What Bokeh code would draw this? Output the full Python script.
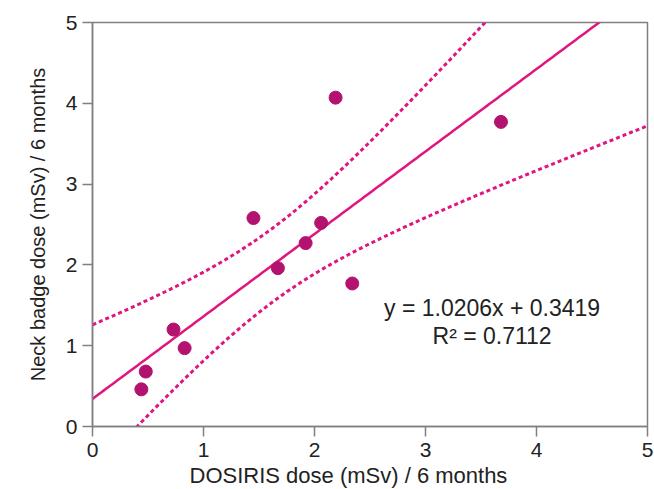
import numpy as np
from bokeh.plotting import figure
from bokeh.models import Range1d, FixedTicker, Title
from bokeh.embed import file_html
from bokeh.resources import INLINE
from bokeh.core.properties import value

# Data
dosiris_x = [0.44, 0.48, 0.73, 0.83, 1.45, 1.67, 1.92, 2.06, 2.19, 2.34, 3.68]
neck_y = [0.46, 0.68, 1.20, 0.97, 2.58, 1.96, 2.27, 2.52, 4.07, 1.77, 3.77]
slope = 1.0206
intercept = 0.3419
r2_text = "R\u00b2 = 0.7112"
eq_text = "y = 1.0206x + 0.3419"
x_title = "DOSIRIS dose (mSv) / 6 months"
y_title = "Neck badge dose (mSv) / 6 months"
ticks = [0, 1, 2, 3, 4, 5]
t_975_df9 = 2.262

FONT = "Liberation Sans"
MAG = "#E0157E"
DOT = "#B3126F"
TXT = "#222222"

x = np.array(dosiris_x)
y = np.array(neck_y)
n = len(x)
resid = y - (slope * x + intercept)
s = np.sqrt(np.sum(resid ** 2) / (n - 2))
sxx = np.sum((x - x.mean()) ** 2)
xs = np.linspace(0, 5, 201)
ys = slope * xs + intercept
ci = t_975_df9 * s * np.sqrt(1.0 / n + (xs - x.mean()) ** 2 / sxx)

p = figure(width=654, height=489, output_backend="svg", toolbar_location=None,
           x_range=Range1d(0, 5), y_range=Range1d(0, 5),
           min_border_left=92, min_border_top=22, min_border_right=7, min_border_bottom=63)
p.grid.visible = False
p.outline_line_color = "#808080"
p.outline_line_width = 1.5
p.background_fill_color = "white"
p.border_fill_color = "white"

p.line(xs, ys + ci, line_color=MAG, line_width=3, line_dash="4 3")
p.line(xs, ys - ci, line_color=MAG, line_width=3, line_dash="4 3")
p.line(xs, ys, line_color=MAG, line_width=2.5)
p.scatter(dosiris_x, neck_y, size=13, fill_color=DOT, line_color=DOT)

p.text(x=[3.6], y=[1.47], text=[eq_text], text_align="center", text_baseline="middle",
       text_font=value(FONT), text_font_size="23px", text_color=TXT)
p.text(x=[3.6], y=[1.12], text=[r2_text], text_align="center", text_baseline="middle",
       text_font=value(FONT), text_font_size="23px", text_color=TXT)

for ax in (p.xaxis[0], p.yaxis[0]):
    ax.ticker = FixedTicker(ticks=ticks)
    ax.minor_tick_line_color = None
    ax.axis_line_color = "#808080"
    ax.axis_line_width = 1.5
    ax.major_tick_line_color = "#808080"
    ax.major_tick_line_width = 1.5
    ax.major_tick_in = 0
    ax.major_tick_out = 10
    ax.major_label_text_font = FONT
    ax.major_label_text_font_size = "21px"
    ax.major_label_text_color = TXT
    ax.axis_label_text_font = FONT
    ax.axis_label_text_font_size = "20px"
    ax.axis_label_text_font_style = "normal"
    ax.axis_label_text_color = TXT

p.yaxis.axis_label = y_title
p.xaxis.major_label_standoff = 6
p.yaxis.major_label_standoff = 5
p.yaxis.axis_label_standoff = 14

xt = Title(text=x_title, align="left", offset=97, text_font=FONT, text_font_size="22px",
           text_font_style="normal", text_color=TXT, standoff=2)
p.add_layout(xt, "below")

open("out.html", "w").write(file_html(p, INLINE))
